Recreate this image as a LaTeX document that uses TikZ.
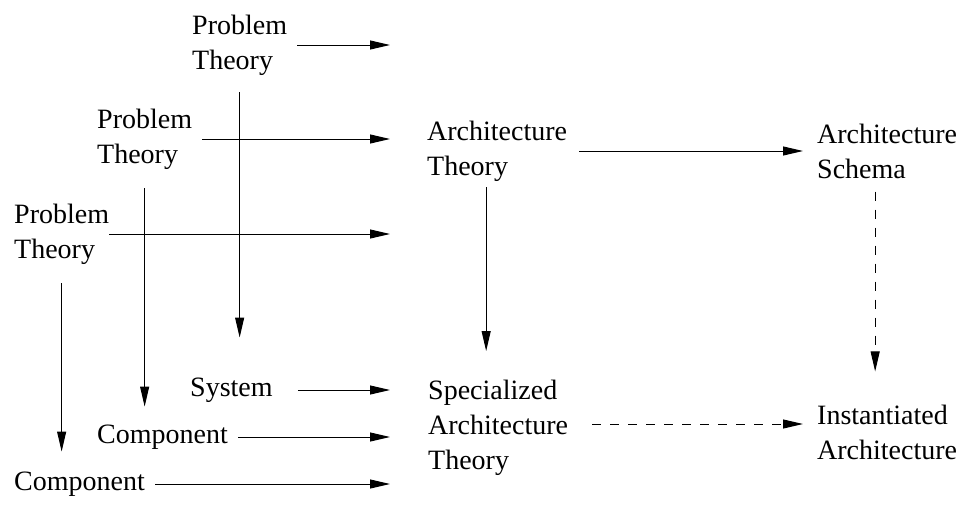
\documentclass[tikz,border=0pt]{standalone}
\usepackage{fontspec}
\setmainfont{Liberation Serif}
\usetikzlibrary{calc,arrows.meta}
\tikzset{>={Triangle[length=20pt,width=9pt]}}
\tikzset{
    lbl/.style={inner sep=0pt, align=left, anchor=west,
        font=\fontsize{28}{35}\selectfont},
    flow/.style={->, line width=1pt},
    maybe/.style={->, line width=1pt, dash pattern=on 9pt off 9pt},
}

\begin{document}
\begin{tikzpicture}[x=1pt, y=-1pt]
    \useasboundingbox (0,0) rectangle (964,506);
    % problem theories, stepped down to the left
    \node[lbl] (pt1) at (192,45) {Problem\\Theory};
    \node[lbl] (pt2) at (97,139) {Problem\\Theory};
    \node[lbl] (pt3) at (14,234) {Problem\\Theory};
    % what they turn into
    \node[lbl] (sys) at (190,390) {System};
    \node[lbl] (comp1) at (97,437) {Component};
    \node[lbl] (comp2) at (14,484) {Component};
    % architecture column
    \node[lbl] (archth) at (427,151) {Architecture\\Theory};
    \node[lbl] (specth) at (428,428) {Specialized\\Architecture\\Theory};
    \node[lbl] (schema) at (817,151) {Architecture\\Schema};
    \node[lbl] (inst) at (817,432) {Instantiated\\Architecture};
    % where the left arrows stop
    \coordinate (tips) at (390,0);

    \draw[flow, shorten <=10pt] (pt1.east) -- (pt1.east -| tips);
    \draw[flow, shorten <=10pt] (pt2.east) -- (pt2.east -| tips);
    \draw[flow] (pt3.east) -- (pt3.east -| tips);
    \draw[flow, shorten <=25pt] (sys.east) -- (sys.east -| tips);
    \draw[flow, shorten <=10pt] (comp1.east) -- (comp1.east -| tips);
    \draw[flow, shorten <=10pt] (comp2.east) -- (comp2.east -| tips);

    \draw[flow, shorten <=17pt, shorten >=40pt] (pt1.south) -- (pt1.south |- sys.north);
    \draw[flow, shorten <=19pt, shorten >=18pt] (pt2.south) -- (pt2.south |- comp1.north);
    \draw[flow, shorten <=19pt, shorten >=20pt] (pt3.south) -- (pt3.south |- comp2.north);

    \draw[flow, shorten <=12pt, shorten >=14pt] (archth.east) -- (schema.west);
    \draw[flow, shorten <=6pt, shorten >=29pt] ([xshift=-11pt]archth.south) -- ([xshift=-11pt]archth.south |- specth.north);
    \draw[maybe, shorten <=13pt, shorten >=33pt] ([xshift=-12pt]schema.south) -- ([xshift=-12pt]schema.south |- inst.north);
    \draw[maybe, shorten <=24pt, shorten >=14pt] ([yshift=4pt]specth.east) -- ([yshift=4pt]specth.east -| inst.west);
\end{tikzpicture}
\end{document}
